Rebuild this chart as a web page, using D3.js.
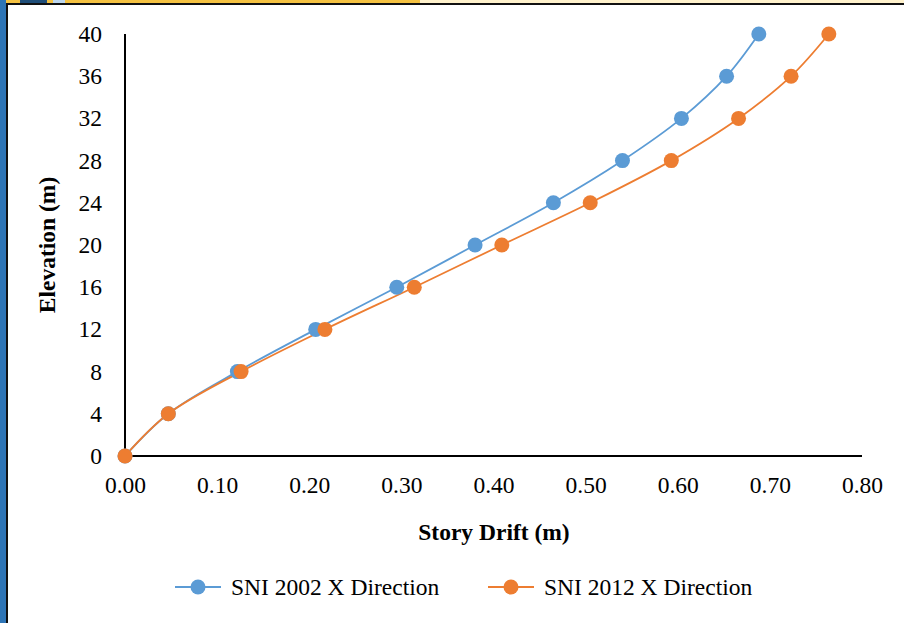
<!DOCTYPE html>
<html><head><meta charset="utf-8">
<script src="https://cdn.jsdelivr.net/npm/d3@7/dist/d3.min.js"></script>
<style>body{margin:0;background:#fff}svg{display:block}</style>
</head><body>
<svg id="c" width="904" height="623"></svg>
<script>
const elevations = [0, 4, 8, 12, 16, 20, 24, 28, 32, 36, 40];
const drift2002 = [0, 0.047, 0.122, 0.207, 0.295, 0.380, 0.465, 0.540, 0.604, 0.653, 0.688];
const drift2012 = [0, 0.047, 0.126, 0.217, 0.314, 0.409, 0.505, 0.593, 0.666, 0.723, 0.764];
const xTicks = [0, 0.1, 0.2, 0.3, 0.4, 0.5, 0.6, 0.7, 0.8];
const yTicks = [0, 4, 8, 12, 16, 20, 24, 28, 32, 36, 40];
const seriesNames = ["SNI 2002 X Direction", "SNI 2012 X Direction"];
const colors = ["#5B9BD5", "#ED7D31"];

const svg = d3.select("#c");
const font = "'Liberation Serif','Times New Roman',serif";
const fs = 23.5;

// decorative frame remnants
svg.append("rect").attr("x",0).attr("y",0).attr("width",904).attr("height",3).attr("fill","#FFF2CC");
svg.append("rect").attr("x",0).attr("y",0).attr("width",420).attr("height",3).attr("fill","#F5C242");
svg.append("rect").attr("x",20).attr("y",0).attr("width",27).attr("height",3).attr("fill","#1F4E79");
svg.append("rect").attr("x",53).attr("y",0).attr("width",12).attr("height",3).attr("fill","#BDD7EE");
svg.append("rect").attr("x",0).attr("y",0).attr("width",6).attr("height",623).attr("fill","#2E75B6");
svg.append("rect").attr("x",6).attr("y",3).attr("width",898).attr("height",2).attr("fill","#111");
svg.append("rect").attr("x",6).attr("y",3).attr("width",2).attr("height",620).attr("fill","#111");

const x = d3.scaleLinear().domain([0, 0.8]).range([125, 862]);
const y = d3.scaleLinear().domain([0, 40]).range([456, 34]);

const xAxis = svg.append("g").attr("transform","translate(0,456)")
  .call(d3.axisBottom(x).tickValues(xTicks).tickFormat(d3.format(".2f")).tickSize(0).tickPadding(20));
const yAxis = svg.append("g").attr("transform","translate(125,0)")
  .call(d3.axisLeft(y).tickValues(yTicks).tickFormat(d3.format("d")).tickSize(0).tickPadding(23));
[xAxis, yAxis].forEach(g => {
  g.select(".domain").attr("stroke","#000").attr("stroke-width",2);
  g.selectAll("text").attr("font-family",font).attr("font-size",fs).attr("fill","#000");
});
xAxis.select(".domain").attr("d","M125,0H862");
yAxis.select(".domain").attr("d","M0,34V456");

svg.append("text").attr("x",494).attr("y",540).attr("text-anchor","middle")
  .attr("font-family",font).attr("font-size",fs).attr("font-weight","bold").text("Story Drift (m)");
svg.append("text").attr("transform","translate(55,245) rotate(-90)").attr("text-anchor","middle")
  .attr("font-family",font).attr("font-size",fs).attr("font-weight","bold").text("Elevation (m)");

const series = [drift2002, drift2012];
const line = d3.line().x(d => x(d[0])).y(d => y(d[1])).curve(d3.curveCatmullRom.alpha(0.5));
series.forEach((vals, i) => {
  const pts = vals.map((v, j) => [v, elevations[j]]);
  svg.append("path").attr("d", line(pts)).attr("fill","none").attr("stroke",colors[i]).attr("stroke-width",1.8);
});
series.forEach((vals, i) => {
  svg.append("g").selectAll("circle").data(vals.map((v,j)=>[v,elevations[j]])).join("circle")
    .attr("cx", d => x(d[0])).attr("cy", d => y(d[1])).attr("r",7.5).attr("fill",colors[i]);
});

// legend
const legX = [175, 488];
seriesNames.forEach((name, i) => {
  const g = svg.append("g").attr("transform", `translate(${legX[i]},587)`);
  g.append("line").attr("x1",0).attr("x2",46).attr("stroke",colors[i]).attr("stroke-width",1.8);
  g.append("circle").attr("cx",23).attr("r",7.5).attr("fill",colors[i]);
  g.append("text").attr("x",56).attr("y",8).attr("font-family",font).attr("font-size",fs).text(name);
});
</script>
</body></html>
